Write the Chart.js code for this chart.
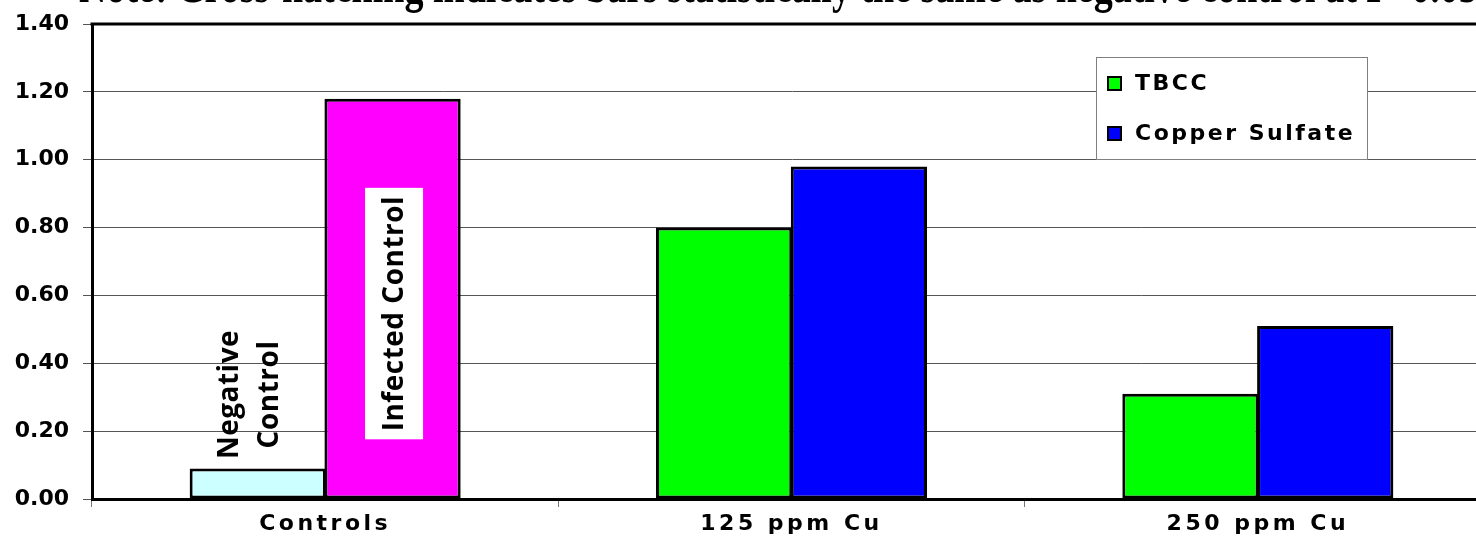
<!DOCTYPE html>
<html>
<head>
<meta charset="utf-8">
<script src="https://cdn.jsdelivr.net/npm/chart.js@4.4.1/dist/chart.umd.min.js"></script>
<style>
  html, body { margin: 0; padding: 0; overflow: hidden; background: #ffffff; width: 1476px; height: 556px; }
  #wrap { position: absolute; left: 0; top: 0; width: 1500px; height: 556px; }
</style>
</head>
<body>
<div id="wrap"><canvas id="c"></canvas></div>
<script>
// ---- data ----
const categories = ['Controls', '125 ppm Cu', '250 ppm Cu'];
const seriesNames = ['TBCC', 'Copper Sulfate'];
const tbccValues = [0.09, 0.80, 0.31];
const copperValues = [1.18, 0.98, 0.51];
const controlLabels = [['Negative', 'Control'], ['Infected Control']];
const yTicks = [0, 0.2, 0.4, 0.6, 0.8, 1.0, 1.2, 1.4];
const noteText = 'Note: Cross-hatching indicates bars statistically the same as negative control at P=0.05';

// ---- styles ----
const tbccColors = ['#CCFFFF', '#00FF00', '#00FF00'];
const copperColors = ['#FF00FF', '#0000FF', '#0000FF'];
const legendColors = ['#00FF00', '#0000FF'];
const SANS = '"DejaVu Sans", Verdana, sans-serif';
const OPEN = '"Open Sans", "DejaVu Sans", sans-serif';

const overlay = {
  id: 'overlay',
  beforeDraw(chart) {
    chart.ctx.letterSpacing = '0px';
  },
  afterDatasetsDraw(chart) {
    // x category labels (ticks.z = 1) are drawn after this point
    chart.ctx.letterSpacing = '3.5px';
  },
  afterDraw(chart) {
    const ctx = chart.ctx;
    const area = chart.chartArea;
    ctx.save();
    // top border of plot area
    ctx.strokeStyle = '#000';
    ctx.lineWidth = 3;
    ctx.beginPath();
    ctx.moveTo(area.left - 1.5, area.top);
    ctx.lineTo(area.right, area.top);
    ctx.stroke();

    // bar annotations
    const m0 = chart.getDatasetMeta(0).data[0];
    const m1 = chart.getDatasetMeta(1).data[0];
    ctx.letterSpacing = '0.5px';
    ctx.font = 'bold 28px ' + OPEN;
    ctx.textBaseline = 'middle';
    ctx.textAlign = 'center';
    {
      const cx = m1.x + 1.5;
      const cy = (m1.y + m1.base) / 2 + 15;
      const txt = controlLabels[1][0];
      const w = ctx.measureText(txt).width;
      ctx.fillStyle = '#fff';
      ctx.fillRect(cx - 29, cy - w / 2 - 8, 58, w + 16);
      ctx.save();
      ctx.translate(cx, cy);
      ctx.rotate(-Math.PI / 2);
      ctx.fillStyle = '#000';
      ctx.fillText(txt, 0, 1);
      ctx.restore();
    }
    {
      const cy = m0.y - 74;
      const lines = controlLabels[0];
      const xs = [m0.x - 28, m0.x + 12];
      lines.forEach((t, i) => {
        ctx.save();
        ctx.translate(xs[i], cy);
        ctx.rotate(-Math.PI / 2);
        ctx.fillStyle = '#000';
        ctx.fillText(t, 0, 0);
        ctx.restore();
      });
    }

    // legend
    const lx = 1096, ly = 57, lw = 271, lh = 102;
    ctx.fillStyle = '#fff';
    ctx.fillRect(lx, ly, lw, lh);
    ctx.strokeStyle = '#808080';
    ctx.lineWidth = 1;
    ctx.strokeRect(lx + 0.5, ly + 0.5, lw, lh);
    ctx.font = 'bold 22px ' + SANS;
    ctx.letterSpacing = '2.5px';
    ctx.textAlign = 'left';
    ctx.textBaseline = 'alphabetic';
    const rows = [90, 140];
    seriesNames.forEach((name, i) => {
      const by = rows[i];
      ctx.fillStyle = legendColors[i];
      ctx.fillRect(1108, by - 13, 13, 13);
      ctx.strokeStyle = '#000';
      ctx.lineWidth = 2;
      ctx.strokeRect(1108, by - 13, 13, 13);
      ctx.fillStyle = '#000';
      ctx.fillText(name, 1135, by);
    });

    // clipped note at top (only its lower edge is inside the picture)
    ctx.letterSpacing = '0px';
    ctx.font = 'bold 38px "Liberation Serif", "DejaVu Serif", serif';
    ctx.fillStyle = '#000';
    ctx.textBaseline = 'alphabetic';
    ctx.save();
    ctx.translate(79, 2);
    ctx.scale(1, 1.35);
    ctx.fillText(noteText, 0, 0);
    ctx.restore();
    ctx.restore();
  }
};

new Chart(document.getElementById('c'), {
  type: 'bar',
  data: {
    labels: categories,
    datasets: [
      { label: seriesNames[0], data: tbccValues, backgroundColor: tbccColors, borderColor: '#000', borderWidth: 3, borderSkipped: false },
      { label: seriesNames[1], data: copperValues, backgroundColor: copperColors, borderColor: '#000', borderWidth: 3, borderSkipped: false }
    ]
  },
  options: {
    responsive: true,
    maintainAspectRatio: false,
    animation: false,
    events: [],
    layout: { padding: { top: 24, right: 9, bottom: 0, left: 0 } },
    datasets: { bar: { categoryPercentage: 0.578, barPercentage: 1.011 } },
    plugins: { legend: { display: false }, tooltip: { enabled: false }, title: { display: false } },
    scales: {
      x: {
        grid: { offset: true, drawOnChartArea: false, drawTicks: true, tickLength: 8, color: '#777', lineWidth: 1 },
        border: { display: true, color: '#000', width: 3 },
        ticks: { z: 1, font: { family: SANS, size: 22, weight: 'bold' }, color: '#000', padding: 4, maxRotation: 0 },
        afterFit(s) { s.height = 57; s.paddingLeft = 0; s.paddingRight = 0; }
      },
      y: {
        min: 0, max: 1.4,
        afterBuildTicks(s) { s.ticks = yTicks.map(v => ({ value: v })); },
        grid: { color: '#555', lineWidth: 1, tickLength: 9, drawTicks: true },
        border: { display: true, color: '#000', width: 3 },
        ticks: { font: { family: SANS, size: 22, weight: 'bold' }, color: '#000', padding: 14, callback: v => Number(v).toFixed(2) },
        afterFit(s) { s.width = 92; s.paddingTop = 0; s.paddingBottom = 0; }
      }
    }
  },
  plugins: [overlay]
});
</script>
</body>
</html>
